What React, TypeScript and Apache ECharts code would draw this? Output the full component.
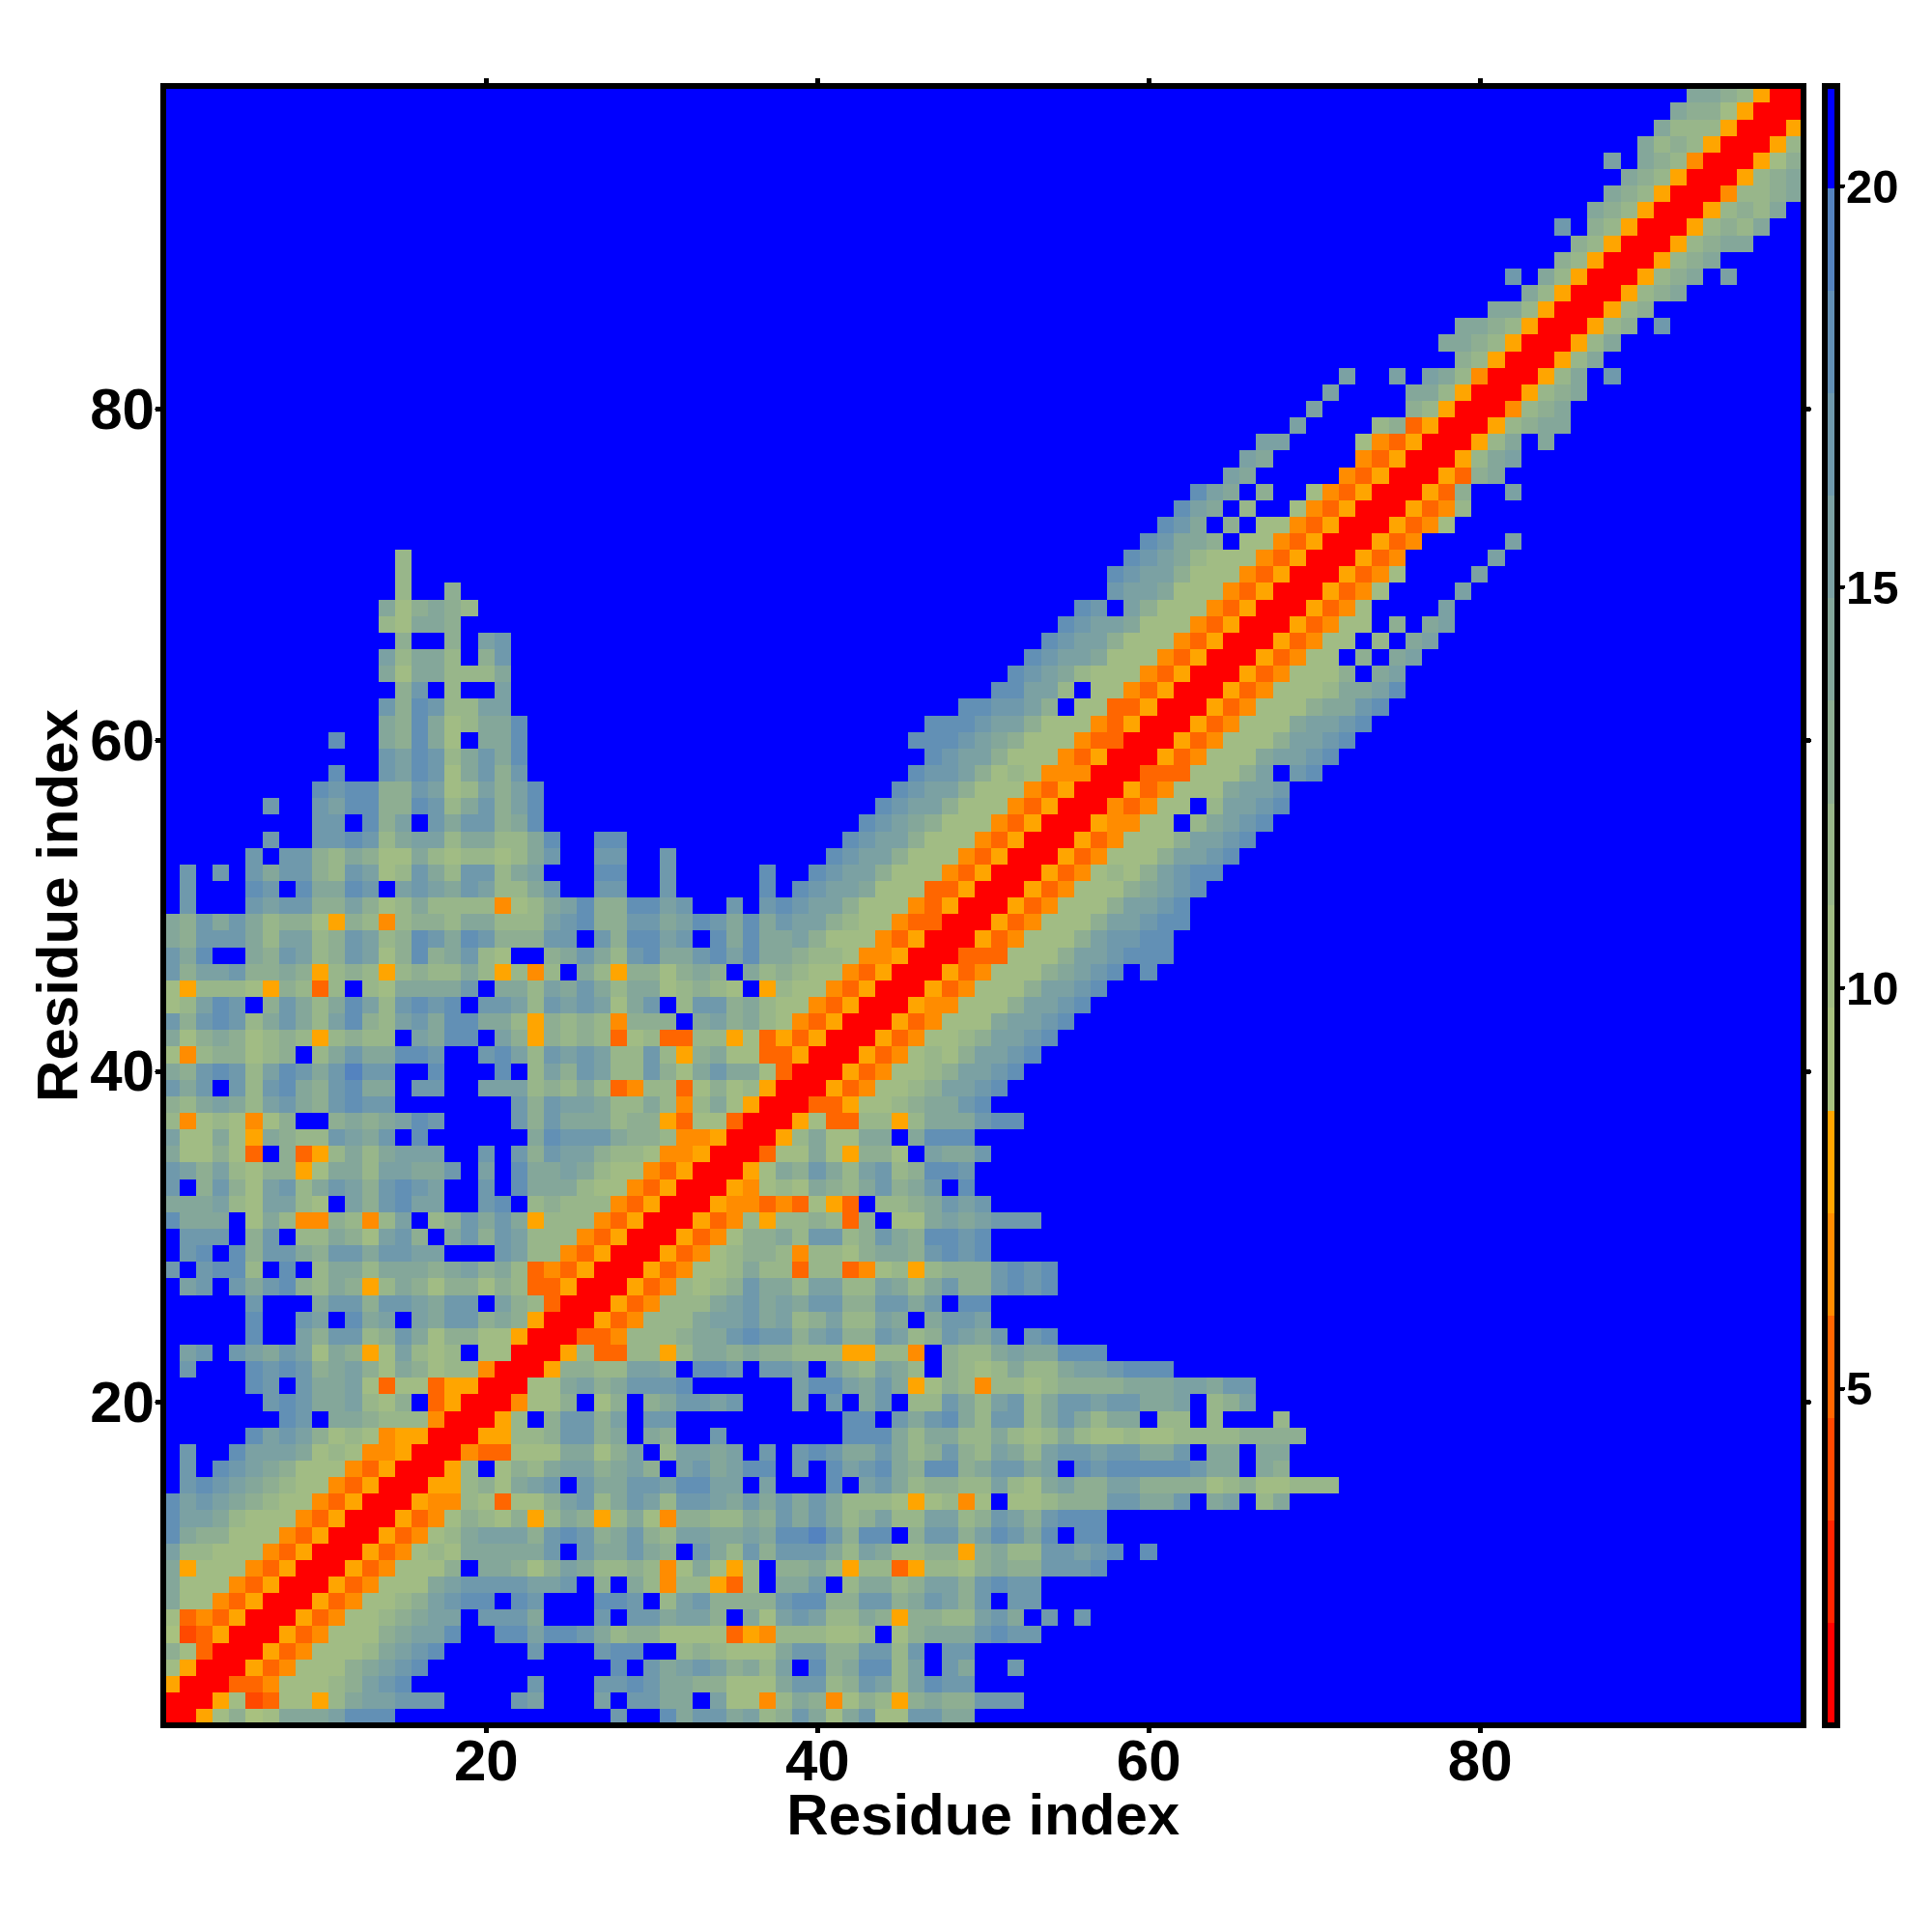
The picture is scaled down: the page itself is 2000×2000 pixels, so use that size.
import React, { useEffect, useRef } from "react";
import * as echarts from "echarts";

// Residue indices on both axes
const residues: string[] = [];
for (let i = 1; i <= 99; i++) residues.push(String(i));

// Colour key: 16 equal steps, from the colour bar
const levelBreaks = [0.8, 2.08, 3.36, 4.63, 5.91, 7.19, 8.47, 9.75, 11.03, 12.3, 13.58, 14.86, 16.14, 17.42, 18.69, 19.97, 21.25];
const levelValues = [1.4, 2.7, 4.0, 5.3, 6.6, 7.8, 9.1, 10.4, 11.7, 13.0, 14.2, 15.5, 16.8, 18.1, 19.4, 20.6];
const levelColors = ["#ff0000", "#ff2400", "#ff4900", "#ff6600", "#ff8c00", "#ffa500", "#a8c17f", "#a1bc84", "#98b68a", "#8eae92", "#84a79a", "#7ba1a3", "#6f99ac", "#6290b5", "#5483bf", "#0000ff"];
const colorbarTicks = [5, 10, 15, 20];

// Distance levels (hex digit = colour step); the matrix is symmetric.
// Row y starts at x = y; "|" marks the ends of x = 35 and x = 70; missing cells are blue.
const matrixRows = [
  "0057967aaabdddfffffffffffffcffdacca|b89ca7ac77ccaa",
  "0057237758abbcccffffcbfffbfccaafb7|748a9479859a99ccc",
  "0033477789bcdfffffffcfffccdcaa997|77acc89cb8bdcc",
  "005347779abcdfffffffffffdfcabcb9|a8bfd9add8bfcaffc",
  "005347778abcdfffffcfffcddff8987|77acc99cc8cfcc",
  "005347779abbdffddbddca89977773|54888778f79aaacdcc",
  "005347789abbfcccafffcfccabb9f|a7bcb88a959988bcafcfc",
  "005347789bcddfdcfffddcf8bc99|99cdd99cc9acb9cfcc",
  "00534777abccccbbcf9fa848853|8faacf8aa89bb9cdcc",
  "005347779faa979ba889847a75|8f99a8588358879a99cccd",
  "00534787aaaaacfcaaca9fca8|c9ccca8ba889959a88ccbcdfd",
  "0053478abbb9cdc9ac98bbaa|baddec9ddf9cc9bdcadfdd",
  "005347987958a958a749988|a9caca89b88bb89cb9cddd",
  "00544873779bc8acb8ccba|cacaca888757847f778999ccaacfabf8a",
  "0055897abcfcaaccbddbb|fbfffdfbca89988b87ab99bb99997897788|8",
  "0058f798abb9ab9fbcab|ddfcfdbcda9dd9accabfdcdddddcaafa9",
  "00433777aa79bf8bbab|fcfcdcaaca89c98ba8bccbccaacfaafaa",
  "0055889cc9afa9ffcf|ffffffddda8aa88a878a87787788889999",
  "0058f9cc9bfccffff|ffffffddfcacda8cc8aca8aaf88f8fff8",
  "004779f79f9accbc|fffbfcfacf88ca8bc8accbccaabf89b",
  "0077ab9acccdfff|fffbddbaca5798488789999aaabbacc",
  "0059988bbafddc|fccbfb98ba8f9878a88abbcddd",
  "0058338858aa9|a9988855884f988abaaddd",
  "003348889aac|dcc9bc99cb89cbacfcd",
  "00534888abb|cab89b88bafaccb",
  "00534888ab|cabacc99ccacfdd",
  "005348789|caa8bb88ba8ac99cdcd",
  "00534778|a88388347858999cdcd",
  "0053478|99848879aa9cdcd",
  "005347|99a8cc89ca9ddcd",
  "00534|85889839f77ababccc",
  "0054|4343753f889acbc",
  "005|4787a98ac9acfd",
  "00|57a9ca8bc89ddc",
  "0|0377a75997fbaac",
  "0058a77aafaddd",
  "0057338858aaacdd",
  "003357789aacd",
  "005347789bbcd",
  "005347789bbcd",
  "005347879bbcd",
  "005347789bbcd",
  "00534777abbcd",
  "005447779bbcd",
  "005347779bbcd",
  "005347779abcdfd",
  "003337779bbcddd",
  "005347779bccdd",
  "005347779bbcdd",
  "005347779bbcd",
  "005347779abcd",
  "005347879bcdd",
  "005347779bbcd",
  "005347779bbcd",
  "0054477f8abcd",
  "0043477f8bbcd",
  "00534777abbc",
  "003337779bfcd",
  "00534777abbc|d",
  "005347779bb|cd",
  "00534777ab|bcd",
  "005347779|aacd",
  "00534777|8aabd",
  "0053477|79fab",
  "005347|7f9fab",
  "00534|77f8fab",
  "0053|477f9fab",
  "005|347ffffb",
  "00|5347ffffb",
  "0|05347ffffb",
  "00534fffffb",
  "00534fffffb",
  "005347",
  "005348",
  "00539ffb",
  "00539a",
  "0058ab",
  "0058afa",
  "00589aa",
  "00489a",
  "00589a",
  "0058afc",
  "0058a",
  "0058a",
  "00589fc",
  "00589",
  "00589a",
  "00589afb",
  "00589a",
  "00589aa",
  "005898a",
  "005898a",
  "004889a",
  "00589a",
  "00579",
  "0058",
  "005",
  "00",
  "0",
];

function buildCells(): number[][] {
  const n = residues.length;
  const grid: number[][] = [];
  for (let i = 0; i < n; i++) grid.push(new Array(n).fill(15));
  matrixRows.forEach((row, r) => {
    const y = r + 1;
    const ends = y <= 35 ? [35, 70, 99] : y <= 70 ? [70, 99] : [99];
    let x = y;
    row.split("|").forEach((part, p) => {
      for (const ch of part) {
        if (x <= 99) {
          const lv = parseInt(ch, 16);
          grid[y - 1][x - 1] = lv;
          grid[x - 1][y - 1] = lv;
        }
        x++;
      }
      x = ends[p] + 1;
    });
  });
  const cells: number[][] = [];
  for (let yi = 0; yi < n; yi++) for (let xi = 0; xi < n; xi++) cells.push([xi, yi, levelValues[grid[yi][xi]]]);
  return cells;
}

const FONT = "'Liberation Sans', Arial, sans-serif";
const everyTwenty = (_i: number, v: string) => Number(v) % 20 === 0;
const frameLine = { show: true, onZero: false, lineStyle: { color: "#000", width: 6, cap: "square" } };
const frameTick = { show: true, length: 6, interval: everyTwenty, alignWithLabel: true, lineStyle: { color: "#000", width: 5, cap: "round" } };
const tickFont = { color: "#000", fontFamily: FONT, fontWeight: "bold", fontSize: 60, lineHeight: 46 };

export default function App() {
  const ref = useRef<HTMLDivElement>(null);
  useEffect(() => {
    if (!ref.current) return;
    const chart = echarts.init(ref.current, undefined, { renderer: "svg", width: 2000, height: 2000 });
    const catX = (position: string, extra: any) => ({
      type: "category", gridIndex: 0, position, data: residues, boundaryGap: true, z: 6,
      axisLine: frameLine, axisTick: frameTick, splitLine: { show: false }, ...extra,
    });
    chart.setOption({
      animation: false,
      backgroundColor: "#ffffff",
      grid: [
        { left: 169, top: 89, width: 1697.5, height: 1697, show: false, outerBoundsMode: "none" },
        { left: 1889, top: 89, width: 13, height: 1697, show: false, outerBoundsMode: "none" },
      ],
      xAxis: [
        catX("bottom", {
          name: "Residue index", nameLocation: "middle", nameGap: 69, nameMoveOverlap: false,
          nameTextStyle: { ...tickFont },
          axisLabel: { show: true, interval: everyTwenty, margin: 13, ...tickFont },
        }),
        catX("top", { axisLabel: { show: false } }),
        { type: "value", gridIndex: 1, position: "bottom", min: 0, max: 1, z: 6, axisLine: frameLine, axisTick: { show: false }, axisLabel: { show: false }, splitLine: { show: false } },
        { type: "value", gridIndex: 1, position: "top", min: 0, max: 1, z: 6, axisLine: frameLine, axisTick: { show: false }, axisLabel: { show: false }, splitLine: { show: false } },
      ],
      yAxis: [
        catX("left", {
          name: "Residue index", nameLocation: "middle", nameGap: 87, nameMoveOverlap: false,
          nameTextStyle: { ...tickFont },
          axisLabel: { show: true, interval: everyTwenty, margin: 9, ...tickFont },
        }),
        catX("right", { axisLabel: { show: false } }),
        { type: "value", gridIndex: 1, position: "left", min: 0.8, max: 21.25, z: 6, axisLine: frameLine, axisTick: { show: false }, axisLabel: { show: false }, splitLine: { show: false } },
        {
          type: "value", gridIndex: 1, position: "right", min: 0.8, max: 21.25, z: 6, axisLine: frameLine, splitLine: { show: false },
          axisTick: { show: true, length: 6, customValues: colorbarTicks, lineStyle: { color: "#000", width: 4, cap: "round" } },
          axisLabel: { show: true, customValues: colorbarTicks, margin: 9, color: "#000", fontFamily: FONT, fontWeight: "bold", fontSize: 49 },
        },
      ],
      visualMap: {
        type: "piecewise", show: false, seriesIndex: 0, dimension: 2,
        pieces: levelColors.map((color, i) => ({ gte: levelBreaks[i], lt: levelBreaks[i + 1], color })),
      },
      series: [
        { type: "heatmap", xAxisIndex: 0, yAxisIndex: 0, data: buildCells(), progressive: 0, itemStyle: { borderWidth: 0 }, emphasis: { disabled: true } },
        {
          type: "custom", xAxisIndex: 2, yAxisIndex: 2, coordinateSystem: "cartesian2d", silent: true,
          data: levelColors.map((_c, i) => [levelBreaks[i], levelBreaks[i + 1], i]),
          encode: { y: [0, 1] },
          renderItem: (_p: any, api: any) => {
            const a = api.coord([0, api.value(0)]);
            const b = api.coord([1, api.value(1)]);
            return { type: "rect", shape: { x: a[0], y: b[1], width: b[0] - a[0], height: a[1] - b[1] }, style: { fill: levelColors[api.value(2)] } };
          },
        },
      ],
    });
    return () => chart.dispose();
  }, []);
  return (
    <>
      <style>{"#chart-box svg path { shape-rendering: crispEdges; } #chart-box svg rect { shape-rendering: crispEdges; } #chart-box svg text { shape-rendering: auto; }"}</style>
      <div id="chart-box" ref={ref} style={{ position: "absolute", left: 0, top: 0, width: 2000, height: 2000 }} />
    </>
  );
}
